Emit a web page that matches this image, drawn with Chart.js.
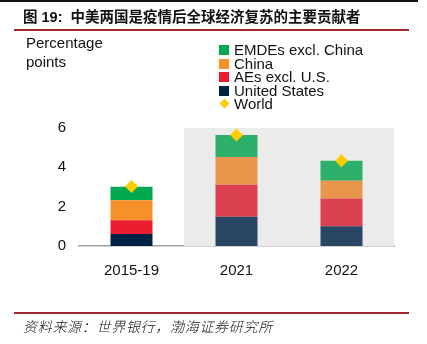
<!DOCTYPE html>
<html>
<head>
<meta charset="utf-8">
<script src="https://cdn.jsdelivr.net/npm/chart.js@4"></script>
<style>
    html, body { margin: 0; padding: 0; background: #fff; }
    body { width: 427px; height: 344px; position: relative; overflow: hidden;
           font-family: "Liberation Sans", Arial, "Noto Sans CJK SC", sans-serif; color: #111; }
    #topLine { position: absolute; left: 0; top: 0; width: 418px; height: 2px; background: #111; }
    #title { position: absolute; left: 23px; top: 5px; font-size: 14.5px; font-weight: bold; white-space: nowrap;
             font-family: "Liberation Sans", "Noto Sans CJK SC", sans-serif; }
    .redLine { position: absolute; left: 14px; width: 395px; height: 2px; background: #a3282b; }
    #unit { position: absolute; left: 26px; top: 33px; font-size: 15px; line-height: 19px; }
    #legend { position: absolute; left: 219px; top: 43px; font-size: 15px; line-height: 13.6px; }
    .item { position: relative; padding-left: 15px; white-space: nowrap; }
    .box { position: absolute; left: 0; top: 2px; width: 10px; height: 10px; }
    .diamond { position: absolute; left: 2px; top: 3px; width: 7px; height: 7px; transform: rotate(45deg); }
    #source { position: absolute; left: 23px; top: 316px; font-size: 14px; font-style: italic; letter-spacing: 0.7px;
              white-space: nowrap; font-family: "Noto Sans CJK SC", sans-serif; font-weight: 300; }
    canvas { position: absolute; left: 0; top: 0; }
</style>
</head>
<body>
<canvas id="chart" width="427" height="344"></canvas>
<div id="topLine"></div>
<div id="title">图 19:&nbsp; 中美两国是疫情后全球经济复苏的主要贡献者</div>
<div class="redLine" style="top:29px"></div>
<div id="unit">Percentage<br>points</div>
<div id="legend"></div>
<div class="redLine" style="top:312px"></div>
<div id="source">资料来源：世界银行，渤海证券研究所</div>

<script>
// Dados do gráfico
const categories = ['2015-19', '2021', '2022'];
const usValues = [0.61, 1.49, 1.00];
const aesValues = [0.70, 1.62, 1.41];
const chinaValues = [1.02, 1.41, 0.91];
const emdeValues = [0.68, 1.13, 1.02];
const worldValues = [3.02, 5.65, 4.34];
const yTicks = [0, 2, 4, 6];
const shadedFrom = '2021';

// cores: primeira barra mais forte, previsões mais suaves
const usColors = ['#002244', '#2b4664', '#2b4664'];
const aesColors = ['#ed1c2e', '#dd4050', '#dd4050'];
const chinaColors = ['#f78f2a', '#e8964c', '#e8964c'];
const emdeColors = ['#00a84f', '#2db06a', '#2db06a'];
const worldColor = '#ffcc00';

function barSet(label, data, colors) {
    return {
        type: 'bar',
        label: label,
        data: data,
        backgroundColor: colors,
        borderWidth: 0,
        stack: 'total',
        order: 1,
        barPercentage: 0.4,
        categoryPercentage: 1.0,
        legendColor: colors[0]
    };
}

// Fundo cinza para os anos de previsão
const shadePlugin = {
    id: 'shade',
    beforeDatasetsDraw(chart) {
        const { ctx, chartArea, scales } = chart;
        const idx = categories.indexOf(shadedFrom);
        const x0 = scales.x.getPixelForValue(idx - 0.5);
        ctx.save();
        ctx.fillStyle = '#ebebeb';
        ctx.fillRect(x0, chartArea.top, chartArea.right - x0, chartArea.bottom - chartArea.top);
        ctx.restore();
    }
};

const chart = new Chart(document.getElementById('chart'), {
    data: {
        labels: categories,
        datasets: [
            barSet('United States', usValues, usColors),
            barSet('AEs excl. U.S.', aesValues, aesColors),
            barSet('China', chinaValues, chinaColors),
            barSet('EMDEs excl. China', emdeValues, emdeColors),
            {
                type: 'line',
                label: 'World',
                data: worldValues,
                showLine: false,
                stack: 'world',
                order: 0,
                clip: false,
                pointStyle: 'rectRot',
                pointRadius: 6.5,
                pointBorderWidth: 0,
                pointBackgroundColor: worldColor,
                pointBorderColor: worldColor,
                legendColor: worldColor
            }
        ]
    },
    options: {
        responsive: false,
        animation: false,
        layout: { padding: { top: 128, right: 33, bottom: 0, left: 0 } },
        plugins: {
            legend: { display: false },
            tooltip: { enabled: false }
        },
        scales: {
            x: {
                stacked: true,
                grid: { display: false, drawTicks: false },
                border: { display: true, color: '#a0a0a0', width: 1.5 },
                ticks: { color: '#111', padding: 16, font: { size: 15, family: 'Liberation Sans' } },
                afterFit(scale) { scale.height = 98; }
            },
            y: {
                stacked: true,
                min: 0,
                max: 6,
                grid: { display: false, drawTicks: false },
                border: { display: false },
                afterBuildTicks(scale) { scale.ticks = yTicks.map(v => ({ value: v })); },
                ticks: { color: '#111', padding: 13, font: { size: 15, family: 'Liberation Sans' } },
                afterFit(scale) { scale.width = 79; }
            }
        }
    },
    plugins: [shadePlugin]
});

// Legenda em HTML (ordem inversa do empilhamento)
const legend = document.getElementById('legend');
const legendOrder = [3, 2, 1, 0, 4];
legendOrder.forEach(i => {
    const ds = chart.data.datasets[i];
    const item = document.createElement('div');
    item.className = 'item';
    const mark = document.createElement('span');
    mark.className = ds.type === 'line' ? 'diamond' : 'box';
    mark.style.background = ds.legendColor;
    item.appendChild(mark);
    item.appendChild(document.createTextNode(ds.label));
    legend.appendChild(item);
});
</script>
</body>
</html>
